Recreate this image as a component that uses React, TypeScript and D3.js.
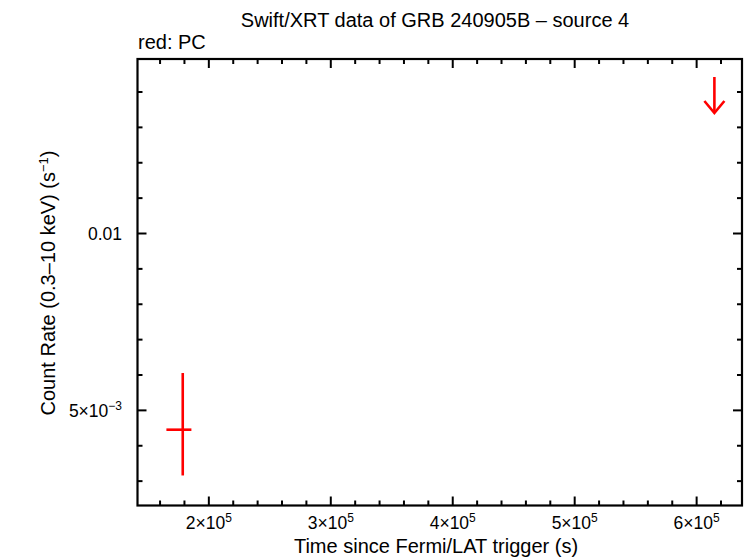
import React from "react";
import * as d3 from "d3";

// ---- data ----
const pcTime = [178600];
const pcTimeLo = [165200];
const pcTimeHi = [185700];
const pcRate = [0.004454];
const pcRateLo = [0.00316];
const pcRateHi = [0.006056];

const ulTime = [614560];
const ulRate = [0.014424];

const xMajorTicks = [200000, 300000, 400000, 500000, 600000];
const xTickMantissa = ["2", "3", "4", "5", "6"];
const yMajorTicks = [0.005, 0.01];

const W = 746;
const H = 558;
const left = 137.5;
const right = 742;
const top = 59;
const bottom = 505.5;

const xDomain: [number, number] = [141500, 637200];
const yDomain: [number, number] = [0.002311, 0.014933];

const FONT = "'Liberation Sans', Arial, Helvetica, sans-serif";

export default function App() {
  const x = d3.scaleLinear().domain(xDomain).range([left, right]);
  const y = d3.scaleLinear().domain(yDomain).range([bottom, top]);

  const xMinor = d3.range(140000, 640001, 20000).filter(
    (v) => v >= xDomain[0] && v <= xDomain[1] && v % 100000 !== 0
  );
  const yMinor = d3
    .range(2, 15)
    .map((k) => k / 1000)
    .filter((v) => v >= yDomain[0] && v <= yDomain[1] && !yMajorTicks.some((m) => Math.abs(m - v) < 1e-9));

  const MAJ = 9;
  const MIN = 5;
  const red = "#ff0000";
  const arrowLen = 36;
  const labelFs = 20;
  const tickFs = 17.5;
  const supFs = 12;

  return (
    <svg
      width={W}
      height={H}
      style={{ position: "absolute", left: 0, top: 0, background: "#fff" }}
      fontFamily={FONT}
    >
      <rect x={0} y={0} width={W} height={H} fill="#fff" />
      {/* title */}
      <text x={435} y={27} textAnchor="middle" fontSize={labelFs} fill="#000">
        Swift/XRT data of GRB 240905B – source 4
      </text>
      <text x={138} y={49} fontSize={labelFs} fill="#000">
        red: PC
      </text>

      {/* ticks */}
      <g stroke="#000" strokeWidth={2}>
        {xMajorTicks.map((v) => (
          <g key={"xM" + v}>
            <line x1={x(v)} x2={x(v)} y1={bottom} y2={bottom - MAJ} />
            <line x1={x(v)} x2={x(v)} y1={top} y2={top + MAJ} />
          </g>
        ))}
        {xMinor.map((v) => (
          <g key={"xm" + v}>
            <line x1={x(v)} x2={x(v)} y1={bottom} y2={bottom - MIN} />
            <line x1={x(v)} x2={x(v)} y1={top} y2={top + MIN} />
          </g>
        ))}
        {yMajorTicks.map((v) => (
          <g key={"yM" + v}>
            <line x1={left} x2={left + MAJ} y1={y(v)} y2={y(v)} />
            <line x1={right} x2={right - MAJ} y1={y(v)} y2={y(v)} />
          </g>
        ))}
        {yMinor.map((v) => (
          <g key={"ym" + v}>
            <line x1={left} x2={left + MIN} y1={y(v)} y2={y(v)} />
            <line x1={right} x2={right - MIN} y1={y(v)} y2={y(v)} />
          </g>
        ))}
      </g>

      {/* frame */}
      <rect
        x={left}
        y={top}
        width={right - left}
        height={bottom - top}
        fill="none"
        stroke="#000"
        strokeWidth={2.2}
      />

      {/* x tick labels */}
      {xMajorTicks.map((v, i) => (
        <text key={"xl" + v} x={x(v)} y={529} textAnchor="middle" fontSize={tickFs} fill="#000">
          {xTickMantissa[i]}×10
          <tspan fontSize={supFs} dy={-7}>5</tspan>
        </text>
      ))}

      {/* y tick labels */}
      <text x={122} y={y(0.01) + 6.5} textAnchor="end" fontSize={tickFs} fill="#000">
        0.01
      </text>
      <text x={122} y={y(0.005) + 6.5} textAnchor="end" fontSize={tickFs} fill="#000">
        5×10
        <tspan fontSize={supFs} dy={-7}>−3</tspan>
      </text>

      {/* axis labels */}
      <text x={436} y={553} textAnchor="middle" fontSize={labelFs} fill="#000">
        Time since Fermi/LAT trigger (s)
      </text>
      <text
        transform={`translate(55, 283) rotate(-90)`}
        textAnchor="middle"
        fontSize={labelFs}
        fill="#000"
      >
        Count Rate (0.3–10 keV) (s
        <tspan fontSize={13} dy={-7}>−1</tspan>
        <tspan dy={7}>)</tspan>
      </text>

      {/* PC data */}
      <g stroke={red} strokeWidth={2.6}>
        {pcTime.map((t, i) => (
          <g key={"pc" + i}>
            <line x1={x(t)} x2={x(t)} y1={y(pcRateLo[i])} y2={y(pcRateHi[i])} />
            <line x1={x(pcTimeLo[i])} x2={x(pcTimeHi[i])} y1={y(pcRate[i])} y2={y(pcRate[i])} />
          </g>
        ))}
        {ulTime.map((t, i) => {
          const cx = x(t);
          const y0 = y(ulRate[i]);
          const y1 = y0 + arrowLen;
          return (
            <g key={"ul" + i} fill="none">
              <line x1={cx} x2={cx} y1={y0} y2={y1} />
              <path d={`M${cx - 10},${y1 - 12} L${cx},${y1} L${cx + 10},${y1 - 12}`} />
            </g>
          );
        })}
      </g>
    </svg>
  );
}
